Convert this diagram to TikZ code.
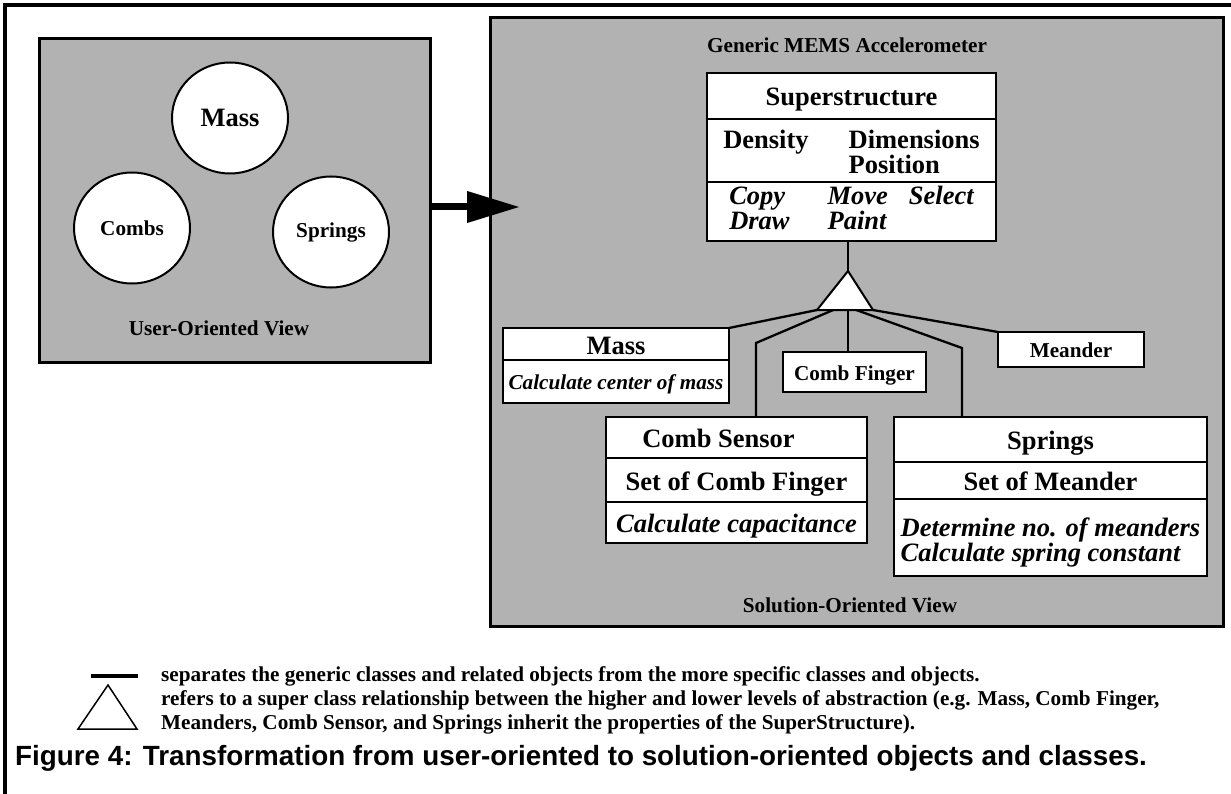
\documentclass[tikz,border=0pt]{standalone}
\usepackage{fontspec}
\setmainfont{Liberation Serif}
\newfontfamily\captionfont{Liberation Sans}
\usetikzlibrary{arrows.meta,positioning,shapes.geometric,calc}
\definecolor{ink}{HTML}{000000}
\definecolor{panelgray}{HTML}{B2B2B2}
\tikzset{
  every node/.style={font=\bfseries},
  bigtext/.style={font=\fontsize{26.5}{25}\selectfont\bfseries},
  bigops/.style={font=\fontsize{26.5}{25}\selectfont\bfseries\itshape},
  smalltext/.style={font=\fontsize{21.2}{24}\selectfont\bfseries},
  smallops/.style={font=\fontsize{21.2}{24}\selectfont\bfseries\itshape},
  panel/.style={draw=ink, line width=3pt, fill=panelgray, inner sep=0pt},
  blob/.style={ellipse, draw=ink, fill=white, line width=2pt, minimum width=116pt, minimum height=111pt, inner sep=0pt},
  part/.style={draw=ink, fill=white, line width=2.5pt, inner sep=0pt, outer sep=0pt, align=center},
  bigpart/.style={part, bigtext, text height=26pt, text depth=6pt},
  bigopspart/.style={part, bigops, text height=26pt, text depth=6pt},
  smallpart/.style={part, smalltext, text height=20.5pt, text depth=4.5pt},
  smallopspart/.style={part, smallops, text height=20.5pt, text depth=4.5pt},
  link/.style={draw=ink, line width=2.3pt},
  bigarrow/.style={-{Triangle[length=53pt,width=30pt]}, line width=7pt, draw=ink},
  frame/.style={draw=ink, line width=3.3pt},
}
\begin{document}
\begin{tikzpicture}[x=1pt,y=-1pt]
\useasboundingbox (0,0) rectangle (1231,794);
\draw[frame] (1231,5) -- (5,5) -- (5,794);
\node[panel, minimum width=391pt, minimum height=324pt, anchor=north west] (userview) at (38,37) {};
\node[panel, minimum width=733pt, minimum height=609pt, anchor=north west] (solview) at (489,16) {};
\node[blob, bigtext] (umass) at (230,118) {Mass};
\node[blob, smalltext] (ucombs) at (132,228) {Combs};
\node[blob, smalltext] (usprings) at (331,232) {Springs};
\node[smalltext] (ulabel) at (219,328) {User-Oriented View};
\coordinate (arrowtip) at (520,207);
\draw[bigarrow] (userview.east |- arrowtip) -- (arrowtip);
\node[smalltext] (stitle) at (847,45) {Generic MEMS Accelerometer};
\node[bigpart, minimum width=289pt, minimum height=46pt, anchor=north west] (supname) at (707,73) {Superstructure};
\node[part, bigtext, text height=29pt, minimum width=289pt, minimum height=63pt, below=0pt of supname] (supattr) {\begin{tabular}[t]{@{}l@{\hspace{40pt}}l@{}}Density & Dimensions\\[-1pt] & Position\end{tabular}};
\node[part, bigops, minimum width=289pt, minimum height=59pt, below=0pt of supattr] (supops) {\begin{tabular}{@{}l@{\hspace{38pt}}l@{\hspace{21pt}}l@{}}Copy & Move & Select\\[-0.5pt] Draw & Paint & \end{tabular}};
\node[bigpart, minimum width=226pt, minimum height=32pt, anchor=north west] (massname) at (503,328) {Mass};
\node[smallopspart, minimum width=226pt, minimum height=43pt, below=0pt of massname] (massops) {Calculate center of mass};
\node[smallpart, minimum width=143pt, minimum height=40pt, anchor=north west] (finger) at (783,352) {Comb Finger};
\node[smallpart, minimum width=146pt, minimum height=35pt, anchor=north west] (meander) at (998,332) {Meander};
\node[bigpart, minimum width=261pt, minimum height=41pt, anchor=north west] (sensorname) at (606,417) {Comb Sensor\hspace{36pt}\null};
\node[bigpart, minimum width=261pt, minimum height=44pt, below=0pt of sensorname] (sensorattr) {Set of Comb Finger};
\node[bigopspart, minimum width=261pt, minimum height=41pt, below=0pt of sensorattr] (sensorops) {Calculate capacitance};
\node[bigpart, minimum width=313pt, minimum height=45pt, anchor=north west] (springname) at (894,417) {Springs};
\node[bigpart, minimum width=313pt, minimum height=37pt, below=0pt of springname] (springattr) {Set of Meander};
\node[part, bigops, text height=31pt, minimum width=313pt, minimum height=77pt, below=0pt of springattr] (springops) {\begin{tabular}[t]{@{}l@{}}Determine no. of meanders\\[-0.8pt] Calculate spring constant\end{tabular}};
\coordinate (apex) at (848,271);
\coordinate (basel) at (817,310);
\coordinate (baser) at (873,310);
\coordinate (sensorbend) at (756,343);
\coordinate (springbend) at (962,348);
\draw[link] (supops.south -| apex) -- (apex);
\draw[link] (basel) -- (massname.north east);
\draw[link] ($(basel)!0.29!(baser)$) -- (sensorbend) -- (sensorbend |- sensorname.north);
\draw[link] (apex |- basel) -- (apex |- finger.north);
\draw[link] ($(basel)!0.7!(baser)$) -- (springbend) -- (springbend |- springname.north);
\draw[link] (baser) -- (meander.north west);
\draw[link, line width=2pt, fill=white] (apex) -- (basel) -- (baser) -- cycle;
\node[smalltext] (slabel) at (850,605) {Solution-Oriented View};
\draw[line width=4pt] (91,676) -- (138,676);
\draw[line width=1.5pt] (108,685) -- (78,729) -- (137,729) -- cycle;
\node[smalltext, anchor=west, inner sep=0pt] (sepnote) at (161,676) {separates the generic classes and related objects from the more specific classes and objects.};
\node[smalltext, anchor=north west, align=left, inner sep=0pt] (supnote) at (161,690) {refers to a super class relationship between the higher and lower levels of abstraction (e.g. Mass, Comb Finger,\\Meanders, Comb Sensor, and Springs inherit the properties of the SuperStructure).};
\node[anchor=west, inner sep=0pt, font=\captionfont\fontsize{27.8}{30}\selectfont\bfseries] (caption) at (15,758) {Figure 4: Transformation from user-oriented to solution-oriented objects and classes.};
\end{tikzpicture}
\end{document}
